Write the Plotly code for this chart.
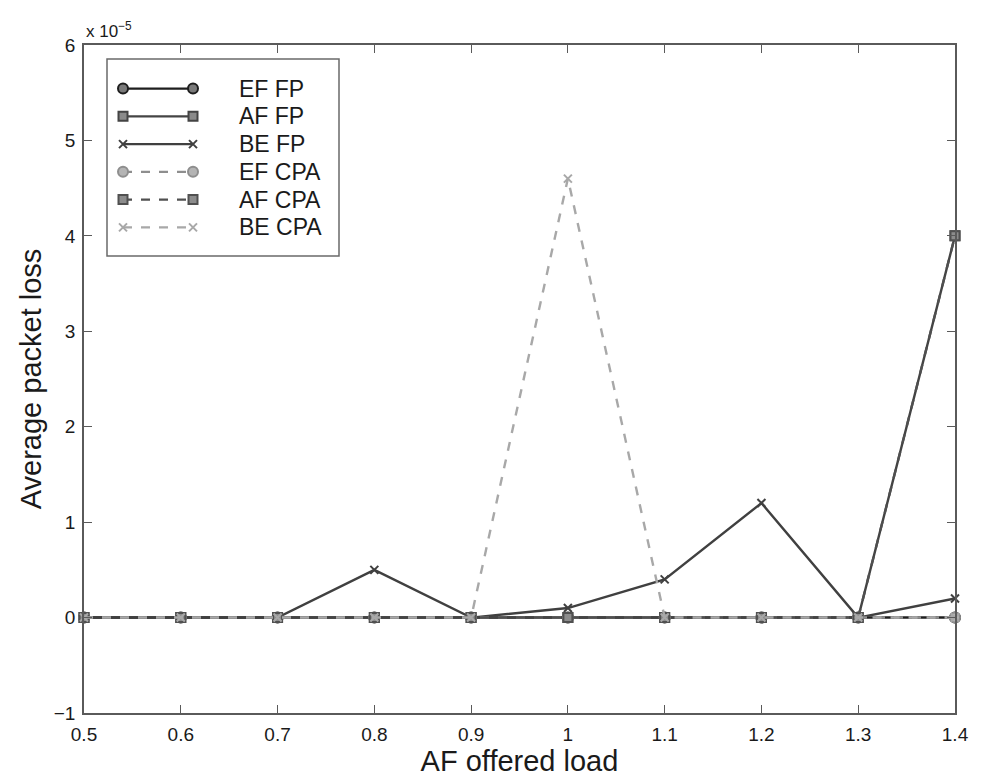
import plotly.graph_objects as go

# AF offered load (x) and average packet loss in units of 1e-5 (y)
load = [0.5, 0.6, 0.7, 0.8, 0.9, 1.0, 1.1, 1.2, 1.3, 1.4]
ef_fp = [0, 0, 0, 0, 0, 0, 0, 0, 0, 0]
af_fp = [0, 0, 0, 0, 0, 0, 0, 0, 0, 4.0]
be_fp = [0, 0, 0, 0.5, 0, 0.1, 0.4, 1.2, 0, 0.2]
ef_cpa = [0, 0, 0, 0, 0, 0, 0, 0, 0, 0]
af_cpa = [0, 0, 0, 0, 0, 0, 0, 0, 0, 4.0]
be_cpa = [0, 0, 0, 0, 0, 4.6, 0, 0, 0, 0]

series_names = ["EF FP", "AF FP", "BE FP", "EF CPA", "AF CPA", "BE CPA"]
series_values = [ef_fp, af_fp, be_fp, ef_cpa, af_cpa, be_cpa]

x_ticks = [0.5, 0.6, 0.7, 0.8, 0.9, 1.0, 1.1, 1.2, 1.3, 1.4]
x_tick_labels = ["0.5", "0.6", "0.7", "0.8", "0.9", "1", "1.1", "1.2", "1.3", "1.4"]
y_ticks = [-1, 0, 1, 2, 3, 4, 5, 6]
y_tick_labels = ["\u22121", "0", "1", "2", "3", "4", "5", "6"]

# line / marker styling per series
styles = [
    dict(color="#1e1e1e", fill="#7a7a7a", dash="solid", symbol="circle", size=10),
    dict(color="#444444", fill="#8a8a8a", dash="solid", symbol="square", size=9),
    dict(color="#404040", fill="#404040", dash="solid", symbol="x-thin-open", size=8),
    dict(color="#8e8e8e", fill="#b4b4b4", dash="dash", symbol="circle", size=10),
    dict(color="#505050", fill="#8c8c8c", dash="dash", symbol="square", size=9),
    dict(color="#a8a8a8", fill="#a8a8a8", dash="dash", symbol="x-thin-open", size=8),
]

FONT = "Liberation Sans, Arial, Helvetica, sans-serif"
W, H = 981, 782
L, R, T, B = 84, 26, 45, 63
plot_w = W - L - R
plot_h = H - T - B


def px_x(p):
    return (p - L) / plot_w


def px_y(p):
    return (H - B - p) / plot_h


def marker_of(st):
    return dict(symbol=st["symbol"], size=st["size"], color=st["fill"],
                line=dict(color=st["color"], width=2))


fig = go.Figure()

for name, vals, st in zip(series_names, series_values, styles):
    fig.add_trace(go.Scatter(
        x=load, y=vals, name=name, mode="lines+markers",
        line=dict(color=st["color"], width=2.4, dash=st["dash"]),
        marker=marker_of(st), cliponaxis=False, showlegend=False,
    ))

# legend box drawn in the MATLAB style: sample line with a marker at each end
box = dict(x0=107, x1=339, y0=59, y1=258)
row_top, row_step = 89, 28
sample_x0, sample_x1, text_x = 123, 193, 237

fig.add_shape(type="rect", xref="paper", yref="paper",
              x0=px_x(box["x0"]), x1=px_x(box["x1"]),
              y0=px_y(box["y1"]), y1=px_y(box["y0"]),
              line=dict(color="#6a6a6a", width=1.5), fillcolor="white",
              layer="below")

for i, (name, st) in enumerate(zip(series_names, styles)):
    yy = px_y(row_top + i * row_step)
    fig.add_trace(go.Scatter(
        x=[px_x(sample_x0), px_x(sample_x1)], y=[yy, yy],
        xaxis="x2", yaxis="y2", mode="lines+markers",
        line=dict(color=st["color"], width=2.4, dash=st["dash"]),
        marker=marker_of(st), cliponaxis=False, showlegend=False,
        hoverinfo="skip",
    ))
    fig.add_annotation(xref="paper", yref="paper", x=px_x(text_x), y=yy,
                       text=name, showarrow=False, xanchor="left",
                       yanchor="middle",
                       font=dict(family=FONT, size=23, color="#1a1a1a"))

# exponent label above the y axis
fig.add_annotation(xref="paper", yref="paper", x=px_x(84), y=px_y(43),
                   text="x 10<sup>\u22125</sup>", showarrow=False,
                   xanchor="left", yanchor="bottom",
                   font=dict(family=FONT, size=17, color="#1a1a1a"))

axis_common = dict(
    showgrid=False, zeroline=False, showline=True, linecolor="#5a5a5a",
    linewidth=1.5, mirror="ticks", ticks="inside", ticklen=8,
    tickcolor="#5a5a5a", tickwidth=1.2,
    tickfont=dict(family=FONT, size=19, color="#1a1a1a"),
)

fig.update_layout(
    width=W, height=H,
    margin=dict(l=L, r=R, t=T, b=B, pad=0),
    paper_bgcolor="white", plot_bgcolor="white",
    font=dict(family=FONT, color="#1a1a1a"),
    xaxis=dict(range=[0.5, 1.4], tickvals=x_ticks, ticktext=x_tick_labels,
               ticklabelstandoff=3,
               title=dict(text="AF offered load", standoff=5,
                          font=dict(family=FONT, size=29, color="#1a1a1a")),
               **axis_common),
    yaxis=dict(range=[-1, 6], tickvals=y_ticks, ticktext=y_tick_labels,
               ticklabelstandoff=3,
               title=dict(text="Average packet loss", standoff=4,
                          font=dict(family=FONT, size=29, color="#1a1a1a")),
               **axis_common),
    xaxis2=dict(range=[0, 1], domain=[0, 1], overlaying="x", visible=False,
                fixedrange=True),
    yaxis2=dict(range=[0, 1], domain=[0, 1], overlaying="y", visible=False,
                fixedrange=True),
    showlegend=False,
)

fig.write_html("out.html")
